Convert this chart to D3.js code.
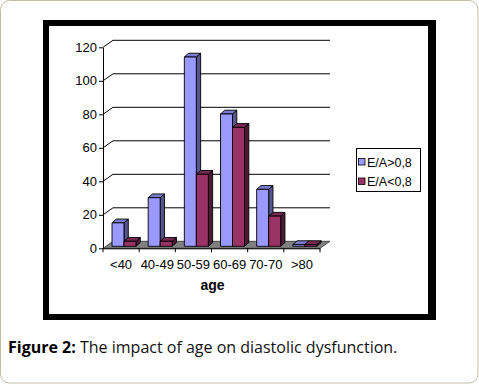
<!DOCTYPE html>
<html>
<head>
    <title>The impact of age on diastolic dysfunction</title>
    <script src="https://d3js.org/d3.v7.min.js"></script>
    <style>
        body {
            margin: 0;
            background-color: white;
        }
        svg text {
            font-family: "Liberation Sans", Arial, sans-serif;
        }
    </style>
</head>
<body>
    <div id="chart"></div>
    <script>
        // Data
        const categories = ['<40', '40-49', '50-59', '60-69', '70-70', '>80'];
        const seriesNames = ['E/A>0,8', 'E/A<0,8'];
        const highRatio = [14, 29, 113, 79, 34, 1];
        const lowRatio = [3, 3, 43, 71, 18, 1];
        const yTicks = [0, 20, 40, 60, 80, 100, 120];

        const W = 479, H = 384;
        const svg = d3.select('#chart').append('svg')
            .attr('width', W)
            .attr('height', H);

        // card outline
        svg.append('rect')
            .attr('x', 0.5).attr('y', 0.5)
            .attr('width', W - 1.5).attr('height', H - 1.5)
            .attr('rx', 9)
            .attr('fill', 'white')
            .attr('stroke', '#c3bea2');

        // thick black frame round the chart
        svg.append('rect').attr('x', 43).attr('y', 20).attr('width', 393).attr('height', 300).attr('fill', '#000');
        svg.append('rect').attr('x', 49).attr('y', 26).attr('width', 379).attr('height', 288).attr('fill', '#fff');

        // plot geometry (front plane)
        const x0 = 103, x1 = 320, yBase = 248.3;
        const depth = { dx: 10, dy: -7 };
        const x = d3.scaleBand().domain(categories).range([x0, x1]);
        const y = d3.scaleLinear().domain([0, 120]).range([yBase, 47.3]);

        // gridlines on the back wall
        const grid = svg.append('g');
        yTicks.filter(t => t > 0).forEach(t => {
            grid.append('path')
                .attr('d', `M${x0},${y(t)}L${x0 + depth.dx},${y(t) + depth.dy}L${x1 + depth.dx},${y(t) + depth.dy}`)
                .attr('fill', 'none')
                .attr('stroke', '#000')
                .attr('stroke-width', 1);
        });

        // floor
        svg.append('path')
            .attr('d', `M${x0},${yBase}L${x1},${yBase}L${x1 + depth.dx},${yBase + depth.dy}L${x0 + depth.dx},${yBase + depth.dy}Z`)
            .attr('fill', '#808080')
            .attr('stroke', '#333')
            .attr('stroke-width', 0.8);

        // y axis
        const yAxis = d3.axisLeft(y).tickValues(yTicks).tickSize(4).tickSizeOuter(0);
        const yg = svg.append('g').attr('transform', `translate(${x0},0)`).call(yAxis);
        yg.select('.domain').attr('stroke', '#000');
        yg.selectAll('.tick line').attr('stroke', '#000');
        yg.selectAll('.tick text')
            .attr('x', -6)
            .attr('fill', '#000')
            .style('font-size', '13px')
            .style('font-family', '"Liberation Sans", Arial, sans-serif');

        // x axis
        const xAxis = d3.axisBottom(x).tickSize(0).tickSizeOuter(0);
        const xg = svg.append('g').attr('transform', `translate(0,${yBase})`).call(xAxis);
        xg.select('.domain').attr('stroke', '#000');
        xg.selectAll('.tick text')
            .attr('y', 11)
            .attr('fill', '#000')
            .style('font-size', '13px')
            .style('font-family', '"Liberation Sans", Arial, sans-serif');
        // category separators
        xg.selectAll('.sep')
            .data(d3.range(categories.length + 1))
            .enter().append('line')
            .attr('x1', i => x0 + i * x.step())
            .attr('x2', i => x0 + i * x.step())
            .attr('y1', 0).attr('y2', 4)
            .attr('stroke', '#000');

        // 3D bars
        const series = [
            { name: seriesNames[0], values: highRatio, front: '#9999ff', side: '#55558f', top: '#7b7bcf' },
            { name: seriesNames[1], values: lowRatio, front: '#993366', side: '#4f1a35', top: '#7a2952' }
        ];
        const barW = 12, bd = { dx: 4.3, dy: -3.8 }, off = { dx: 2, dy: -2 };
        const bars = svg.append('g');
        categories.forEach((c, i) => {
            series.forEach((s, k) => {
                const v = s.values[i];
                const bx = x(c) + 7 + off.dx + k * barW;
                const by0 = yBase + off.dy;
                const by1 = y(v) + off.dy;
                const g = bars.append('g')
                    .attr('stroke', '#000')
                    .attr('stroke-width', 0.9)
                    .attr('stroke-linejoin', 'round');
                // side face
                g.append('path')
                    .attr('d', `M${bx + barW},${by0}L${bx + barW + bd.dx},${by0 + bd.dy}L${bx + barW + bd.dx},${by1 + bd.dy}L${bx + barW},${by1}Z`)
                    .attr('fill', s.side);
                // top face
                g.append('path')
                    .attr('d', `M${bx},${by1}L${bx + bd.dx},${by1 + bd.dy}L${bx + barW + bd.dx},${by1 + bd.dy}L${bx + barW},${by1}Z`)
                    .attr('fill', s.top);
                // front face
                g.append('rect')
                    .attr('x', bx).attr('y', by1)
                    .attr('width', barW).attr('height', by0 - by1)
                    .attr('fill', s.front);
            });
        });

        // axis title
        svg.append('text')
            .attr('x', (x0 + x1) / 2 + 1)
            .attr('y', 290)
            .attr('text-anchor', 'middle')
            .style('font-size', '14px')
            .style('font-weight', 'bold')
            .text('age');

        // legend
        const lg = svg.append('g');
        lg.append('rect')
            .attr('x', 356.5).attr('y', 148.5)
            .attr('width', 64).attr('height', 43)
            .attr('fill', '#fff').attr('stroke', '#000');
        series.forEach((s, k) => {
            const ly = 162 + k * 19.5;
            lg.append('rect')
                .attr('x', 358.5).attr('y', ly - 3.5)
                .attr('width', 6.5).attr('height', 6.5)
                .attr('fill', s.front).attr('stroke', '#000').attr('stroke-width', 0.8);
            lg.append('text')
                .attr('x', 367).attr('y', ly + 4.5)
                .style('font-size', '12.5px')
                .text(s.name);
        });

        // caption
        const cap = svg.append('text')
            .attr('x', 8).attr('y', 353)
            .style('font-family', '"Open Sans", "Noto Sans", sans-serif')
            .style('font-size', '16px')
            .attr('fill', '#111');
        cap.append('tspan').style('font-weight', 'bold').attr('fill', '#000').text('Figure 2:');
        cap.append('tspan').text(' The impact of age on diastolic dysfunction.');
    </script>
</body>
</html>
